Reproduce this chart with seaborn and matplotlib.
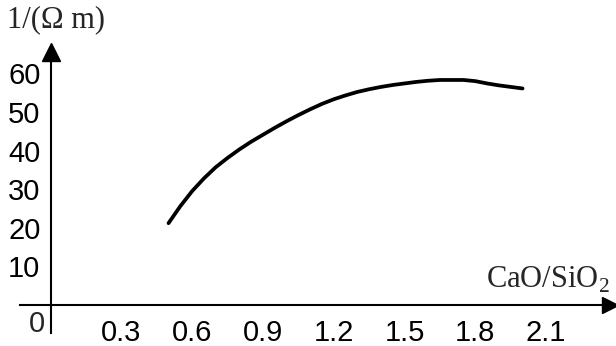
import matplotlib
matplotlib.use("Agg")
import matplotlib.pyplot as plt
import seaborn as sns
import pandas as pd

# basicity (CaO/SiO2) vs. electrical conductivity of the slag
basicity = [0.50, 0.55, 0.60, 0.65, 0.70, 0.75, 0.80, 0.85, 0.90, 0.95,
            1.00, 1.05, 1.10, 1.15, 1.20, 1.25, 1.30, 1.35, 1.40, 1.45,
            1.50, 1.55, 1.60, 1.65, 1.70, 1.75, 1.80, 1.85, 1.90, 1.95, 2.00]
conductivity = [21.2, 25.6, 29.5, 32.8, 35.7, 38.1, 40.3, 42.3, 44.1, 45.9,
                47.6, 49.2, 50.7, 52.1, 53.3, 54.3, 55.2, 55.9, 56.5, 57.0,
                57.4, 57.8, 58.1, 58.3, 58.3, 58.3, 58.0, 57.4, 56.9, 56.5, 56.1]

x_ticks = [0.3, 0.6, 0.9, 1.2, 1.5, 1.8, 2.1]
x_tick_labels = ["0.3", "0.6", "0.9", "1.2", "1.5", "1.8", "2.1"]
y_ticks = [10, 20, 30, 40, 50, 60]
y_tick_labels = ["10", "20", "30", "40", "50", "60"]

sns.set_style("white")
plt.rcParams["font.family"] = ["Liberation Sans Narrow", "Liberation Sans", "DejaVu Sans"]
plt.rcParams["mathtext.fontset"] = "custom"
plt.rcParams["mathtext.rm"] = "Liberation Serif"

df = pd.DataFrame({"basicity": basicity, "conductivity": conductivity})

fig = plt.figure(figsize=(6.16, 3.46), dpi=100)
ax = fig.add_axes([0, 0, 1, 1])
ax.set_xlim(-0.214, 2.396)
ax.set_ylim(-10.62, 79.02)

sns.lineplot(data=df, x="basicity", y="conductivity", color="black",
             linewidth=2.7, ax=ax)

# axes crossing at the origin
for side in ("top", "right"):
    ax.spines[side].set_visible(False)
ax.spines["left"].set_position(("data", 0))
ax.spines["bottom"].set_position(("data", 0))
ax.spines["left"].set_bounds(-7.3, 64)
ax.spines["bottom"].set_bounds(-0.13, 2.36)
for side in ("left", "bottom"):
    ax.spines[side].set_linewidth(1.5)
    ax.spines[side].set_color("black")

# arrow heads
ax.plot([0], [65.6], marker="^", color="black", markersize=13, clip_on=False)
ax.plot([2.372], [0], marker=">", color="black", markersize=12, clip_on=False)

ax.set_xticks(x_ticks)
ax.set_xticklabels(x_tick_labels)
ax.set_yticks(y_ticks)
ax.set_yticklabels(y_tick_labels)
ax.tick_params(axis="both", direction="inout", length=6.5, width=1.2,
               colors="black", labelsize=21)
ax.tick_params(axis="x", pad=7)
ax.tick_params(axis="y", pad=4)
ax.set_xlabel("")
ax.set_ylabel("")

# origin label
ax.text(-0.058, -4.9, "0", ha="center", va="center", fontsize=21)

# axis titles
ax.text(-0.185, 74.0, "1/(Ω m)", ha="left", va="center", fontsize=22,
        family=["Liberation Serif", "DejaVu Serif"])
ax.text(1.845, 6.5, r"CaO/SiO$_2$", ha="left", va="center", fontsize=22,
        family=["Liberation Serif", "DejaVu Serif"])

fig.savefig("out.png", dpi=100, facecolor="white")
